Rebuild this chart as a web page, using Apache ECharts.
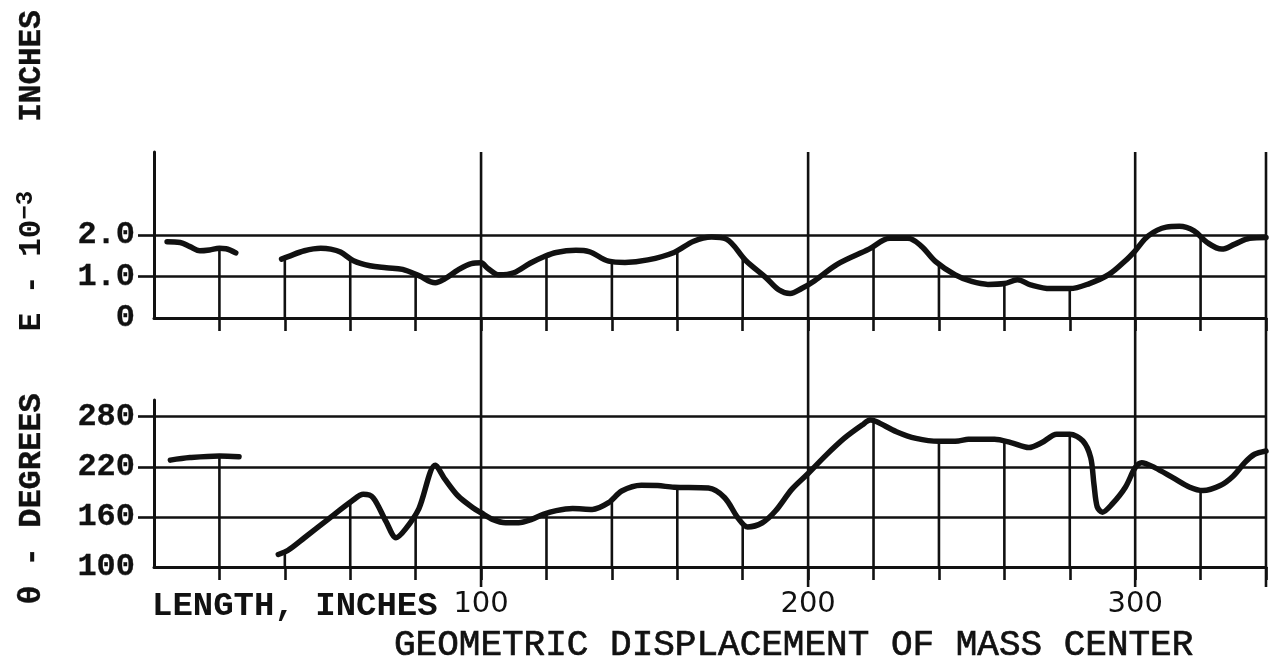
<!DOCTYPE html>
<html><head><meta charset="utf-8">
<script src="https://cdn.jsdelivr.net/npm/echarts@6/dist/echarts.min.js"></script>
<style>html,body{margin:0;padding:0;background:#fff}#c{width:1281px;height:664px}</style>
</head><body><div id="c"></div>
<script>
// ---- data ----
const xTickValues = [20,40,60,80,100,120,140,160,180,200,220,240,260,280,300,320,340];
const xTickLabels = [100,200,300];
const fullLinesX = [100,200,300,340];
const eTickLabels = [0,1,2];
const eGridValues = [1,2];
const tTickLabels = [100,160,220,280];
const tGridValues = [160,220,280];

const eSeg1 = [[4,1.84],[8,1.82],[11,1.72],[14,1.62],[17,1.64],[20,1.68],[22,1.67],[25,1.57]];
const eSeg2 = [[39,1.42],[41,1.48],[46,1.62],[51,1.68],[54,1.66],[57,1.59],[61,1.38],[66,1.26],[71,1.21],[76,1.17],[81,1.02],[86,0.85],[89,0.95],[93,1.16],[97,1.31],[100,1.33],[102,1.20],[105.5,1.04],[110,1.09],[115,1.32],[119,1.47],[123,1.58],[129,1.63],[133,1.60],[139,1.37],[144,1.34],[151,1.40],[159,1.58],[165,1.85],[170.5,1.95],[175,1.90],[181,1.38],[187,0.98],[191,0.68],[194.5,0.59],[198,0.71],[202,0.90],[209,1.30],[218.6,1.66],[225,1.92],[230.5,1.92],[234.5,1.74],[239,1.36],[245,1.04],[250,0.88],[255,0.81],[260,0.83],[264,0.92],[268,0.80],[274,0.71],[280,0.71],[286,0.83],[292,1.05],[297,1.38],[300,1.62],[304,1.98],[309.5,2.19],[313.5,2.21],[318,2.10],[322,1.82],[326.5,1.66],[330.5,1.78],[335,1.92],[340,1.94]];

const tSeg1 = [[5,228],[11,231],[20,233],[26,232]];
const tSeg2 = [[38,115],[41,120],[46,135],[53.5,158],[60.5,179],[64,187],[67,183],[71,154],[74,135],[77,146],[81,170],[86,222],[89,205],[93,185],[97.5,171],[100,165],[103.5,157],[107.5,153],[111.5,153],[115.5,157],[119,163],[123,167.5],[128,170],[134,169],[139,177],[143,191],[149,198],[154,197.5],[159,195.5],[169.5,194.5],[174.5,183],[178.5,159],[181.5,148],[186,153],[190,167],[195,193],[200,212],[205.5,234],[211,254],[216.5,270],[219,276],[221,274],[227,262],[233,254],[240,250.5],[246,251],[249,253],[257,253],[262,249],[267.5,243],[271.5,249],[276,259],[280,259],[284,251],[286.4,231],[287.4,199],[288.4,172],[290,165.6],[293,175.5],[297,195.5],[300,219],[302,225],[306,219],[311.5,207],[316.7,195.5],[320.7,191.5],[326,197.5],[330,209],[333.5,225],[336.5,235],[340,239]];

const stemX = [20,40,60,80,120,140,160,180,220,240,260,280,320];
const eStem = [1.68,1.46,1.40,1.05,1.49,1.36,1.62,1.45,1.72,1.28,0.83,0.71,1.96];
const tStem = [233,118,177,166,164,180,195.5,152,275,250.5,251,259,192];

// ---- styling ----
const INK = '#111';
const MONO = '"Liberation Mono","DejaVu Sans Mono",monospace';
const GRID_W = 2.6;
const CURVE_W = 5.5;

const chart = echarts.init(document.getElementById('c'), null, {renderer:'canvas'});

function stemRender(axisMin) {
  return function (params, api) {
    const p1 = api.coord([api.value(0), api.value(1)]);
    const p2 = api.coord([api.value(0), axisMin]);
    return {type:'line', shape:{x1:p1[0], y1:p1[1], x2:p2[0], y2:p2[1]},
            style:{stroke:INK, lineWidth:GRID_W}};
  };
}
function fullLineRender(params, api) {
  const p1 = api.coord([api.value(0), 1]);
  const p2 = api.coord([api.value(0), 0]);
  return {type:'line', shape:{x1:p1[0], y1:p1[1], x2:p2[0], y2:p2[1]},
          style:{stroke:INK, lineWidth:GRID_W}};
}

function xAxisCfg(gridIndex, showLabels) {
  return {
    type:'value', gridIndex, min:0, max:340, interval:20,
    axisLine:{show:true, onZero:false, lineStyle:{color:INK, width:3}},
    axisTick:{show:true, customValues:xTickValues, length:13, lineStyle:{color:INK, width:GRID_W}},
    axisLabel:{show:showLabels, customValues:xTickLabels, color:INK, fontFamily:'"DejaVu Sans",sans-serif', fontSize:29, margin:23},
    splitLine:{show:false}
  };
}
const yLabelStyle = {color:INK, fontFamily:MONO, fontWeight:'bold', fontSize:32, margin:19,
                     textBorderColor:INK, textBorderWidth:0.3};

const option = {
  backgroundColor:'#ffffff',
  animation:false,
  grid:[
    {left:154, right:15, top:152, height:166},
    {left:154, right:15, top:400, height:167},
    {left:154, right:15, top:152, height:435}
  ],
  xAxis:[
    xAxisCfg(0, false),
    xAxisCfg(1, true),
    {type:'value', gridIndex:2, min:0, max:340, show:false}
  ],
  yAxis:[
    {type:'value', gridIndex:0, min:0, max:4, interval:1,
     axisLine:{show:true, lineStyle:{color:INK, width:3}},
     axisTick:{show:true, customValues:eGridValues, length:16, lineStyle:{color:INK, width:GRID_W}},
     axisLabel:Object.assign({customValues:eTickLabels, formatter:v => v === 0 ? '0' : v.toFixed(1)}, yLabelStyle),
     splitLine:{show:true, lineStyle:{color:INK, width:GRID_W}}},
    {type:'value', gridIndex:1, min:100, max:300, interval:60,
     axisLine:{show:true, lineStyle:{color:INK, width:3}},
     axisTick:{show:true, customValues:tGridValues, length:16, lineStyle:{color:INK, width:GRID_W}},
     axisLabel:Object.assign({customValues:tTickLabels}, yLabelStyle),
     splitLine:{show:true, lineStyle:{color:INK, width:GRID_W}}},
    {type:'value', gridIndex:2, min:0, max:1, show:false}
  ],
  series:[
    {type:'custom', xAxisIndex:2, yAxisIndex:2, data:fullLinesX.map(x => [x]), renderItem:fullLineRender, silent:true, z:1},
    {type:'custom', xAxisIndex:0, yAxisIndex:0, data:stemX.map((x,i) => [x, eStem[i]]), renderItem:stemRender(0), silent:true, z:1},
    {type:'custom', xAxisIndex:1, yAxisIndex:1, data:stemX.map((x,i) => [x, tStem[i]]), renderItem:stemRender(100), silent:true, z:1},
    {type:'line', xAxisIndex:0, yAxisIndex:0, data:eSeg1, smooth:0.35, symbol:'none', lineStyle:{color:INK, width:CURVE_W, cap:'round', join:'round'}, z:3},
    {type:'line', xAxisIndex:0, yAxisIndex:0, data:eSeg2, smooth:0.35, symbol:'none', lineStyle:{color:INK, width:CURVE_W, cap:'round', join:'round'}, z:3},
    {type:'line', xAxisIndex:1, yAxisIndex:1, data:tSeg1, smooth:0.35, symbol:'none', lineStyle:{color:INK, width:CURVE_W, cap:'round', join:'round'}, z:3},
    {type:'line', xAxisIndex:1, yAxisIndex:1, data:tSeg2, smooth:0.3, symbol:'none', lineStyle:{color:INK, width:CURVE_W, cap:'round', join:'round'}, z:3}
  ],
  graphic:[
    {type:'text', x:32, y:66, rotation:Math.PI/2,
     style:{text:'INCHES', fill:INK, font:'bold 31px ' + MONO, textAlign:'center', textVerticalAlign:'middle', stroke:INK, lineWidth:0.4}},
    {type:'text', x:32, y:261, rotation:Math.PI/2,
     style:{text:'{a|E - 10}{b|−3}', textAlign:'center', textVerticalAlign:'middle',
            rich:{a:{fill:INK, fontFamily:MONO, fontWeight:'bold', fontSize:31, lineHeight:36},
                  b:{fill:INK, fontFamily:MONO, fontWeight:'bold', fontSize:24, verticalAlign:'top', lineHeight:36}}}},
    {type:'text', x:32, y:499, rotation:Math.PI/2,
     style:{text:'θ - DEGREES', fill:INK, font:'bold 32px ' + MONO, textAlign:'center', textVerticalAlign:'middle', stroke:INK, lineWidth:0.4}},
    {type:'text', x:152, y:606,
     style:{text:'LENGTH, INCHES', fill:INK, font:'bold 34px ' + MONO, textAlign:'left', textVerticalAlign:'middle'}},
    {type:'text', x:394, y:645,
     style:{text:'GEOMETRIC DISPLACEMENT OF MASS CENTER', fill:INK, font:'36px ' + MONO, textAlign:'left', textVerticalAlign:'middle', stroke:INK, lineWidth:0.7}}
  ]
};
chart.setOption(option);
</script></body></html>
